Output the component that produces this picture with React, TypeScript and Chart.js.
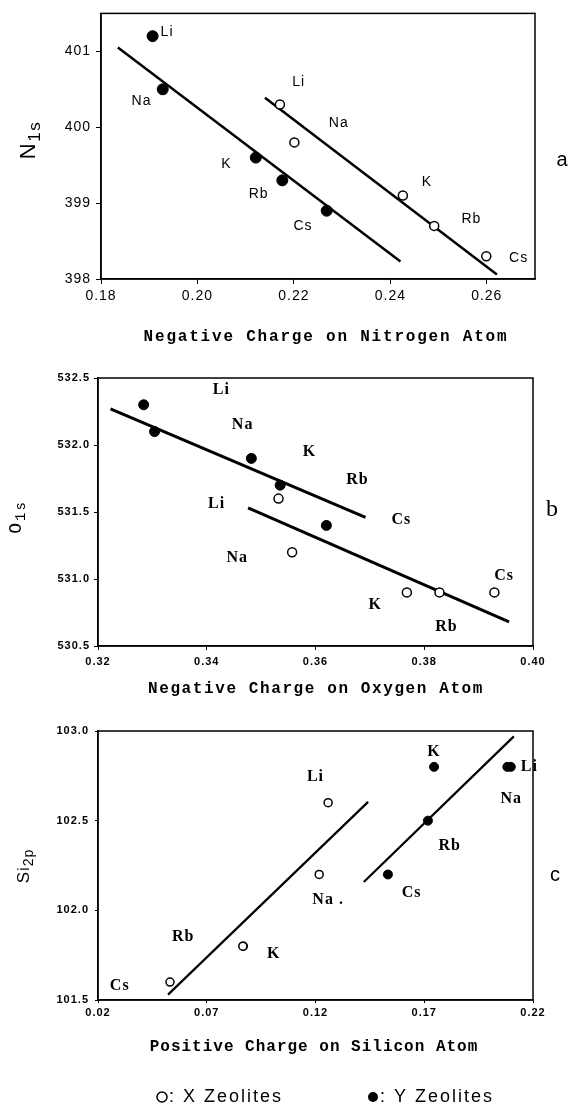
import React, { useEffect, useRef } from "react";
import { Chart, registerables } from "chart.js";

Chart.register(...registerables);

// ---------------- Panel a : N1s vs negative charge on nitrogen ----------------
const A_LABELS_X = ["Li", "Na", "K", "Rb", "Cs"];
const A_LABELS_Y = ["Li", "Na", "K", "Rb", "Cs"];
const A_X_CHARGE = [0.2171, 0.2201, 0.2426, 0.2491, 0.2599];
const A_X_N1S = [400.3, 399.8, 399.1, 398.7, 398.3];
const A_Y_CHARGE = [0.1907, 0.1928, 0.2121, 0.2176, 0.2268];
const A_Y_N1S = [401.2, 400.5, 399.6, 399.3, 398.9];
const A_X_FIT_CHARGE = [0.214, 0.2621];
const A_X_FIT_N1S = [400.39, 398.06];
const A_Y_FIT_CHARGE = [0.1835, 0.2421];
const A_Y_FIT_N1S = [401.05, 398.23];
const A_X_TICKS = [0.18, 0.2, 0.22, 0.24, 0.26];
const A_Y_TICKS = [398, 399, 400, 401];
// label anchors (data coordinates)
const A_X_LABEL_CHARGE = [0.221, 0.2293, 0.2476, 0.2568, 0.2666];
const A_X_LABEL_N1S = [400.59, 400.05, 399.28, 398.79, 398.28];
const A_Y_LABEL_CHARGE = [0.1937, 0.1884, 0.206, 0.2127, 0.2219];
const A_Y_LABEL_N1S = [401.25, 400.35, 399.51, 399.12, 398.69];

// ---------------- Panel b : O1s vs negative charge on oxygen ----------------
const B_LABELS_X = ["Li", "Na", "K", "Rb", "Cs"];
const B_LABELS_Y = ["Li", "Na", "K", "Rb", "Cs"];
const B_X_CHARGE = [0.3532, 0.3557, 0.3768, 0.3828, 0.3929];
const B_X_O1S = [531.6, 531.2, 530.9, 530.9, 530.9];
const B_Y_CHARGE = [0.3284, 0.3304, 0.3482, 0.3535, 0.362];
const B_Y_O1S = [532.3, 532.1, 531.9, 531.7, 531.4];
const B_X_FIT_CHARGE = [0.3476, 0.3956];
const B_X_FIT_O1S = [531.53, 530.68];
const B_Y_FIT_CHARGE = [0.3223, 0.3692];
const B_Y_FIT_O1S = [532.27, 531.46];
const B_X_TICKS = [0.32, 0.34, 0.36, 0.38, 0.4];
const B_Y_TICKS = [530.5, 531.0, 531.5, 532.0, 532.5];
const B_X_LABEL_CHARGE = [0.3418, 0.3456, 0.371, 0.3841, 0.3947];
const B_X_LABEL_O1S = [531.56, 531.16, 530.81, 530.64, 531.02];
const B_Y_LABEL_CHARGE = [0.3427, 0.3466, 0.3589, 0.3677, 0.3758];
const B_Y_LABEL_O1S = [532.41, 532.15, 531.95, 531.74, 531.44];

// ---------------- Panel c : Si2p vs positive charge on silicon ----------------
const C_LABELS_X = ["Li", "Na .", "K", "Rb", "Cs"];
const C_LABELS_Y = ["Li", "Na", "K", "Rb", "Cs"];
const C_X_CHARGE = [0.1258, 0.1217, 0.0868, 0.0866, 0.0531];
const C_X_SI2P = [102.6, 102.2, 101.8, 101.8, 101.6];
const C_Y_CHARGE = [0.2098, 0.2082, 0.1745, 0.1717, 0.1533];
const C_Y_SI2P = [102.8, 102.8, 102.8, 102.5, 102.2];
const C_X_FIT_CHARGE = [0.0522, 0.1442];
const C_X_FIT_SI2P = [101.53, 102.605];
const C_Y_FIT_CHARGE = [0.1422, 0.2112];
const C_Y_FIT_SI2P = [102.158, 102.97];
const C_X_TICKS = [0.02, 0.07, 0.12, 0.17, 0.22];
const C_Y_TICKS = [101.5, 102.0, 102.5, 103.0];
const C_X_LABEL_CHARGE = [0.12, 0.1258, 0.1008, 0.0592, 0.03];
const C_X_LABEL_SI2P = [102.745, 102.056, 101.758, 101.85, 101.58];
const C_Y_LABEL_CHARGE = [0.2183, 0.21, 0.1745, 0.1817, 0.1642];
const C_Y_LABEL_SI2P = [102.8, 102.62, 102.885, 102.36, 102.1];

const LEGEND_X_TEXT = ": X Zeolites";
const LEGEND_Y_TEXT = ": Y Zeolites";

const SANS = '"Liberation Sans", Arial, sans-serif';
const MONO = '"Liberation Mono", "Courier New", monospace';
const SERIF = '"Liberation Serif", "Times New Roman", serif';

const pts = (xs: number[], ys: number[]) => xs.map((x, i) => ({ x, y: ys[i] }));

type LabelGroup = { text: string[]; x: number[]; y: number[] };

type Spec = {
  xMin: number; xMax: number; yMin: number; yMax: number;
  xTicks: number[]; yTicks: number[]; xDec: number; yDec: number;
  openX: number[]; openY: number[]; filledX: number[]; filledY: number[];
  fitOpenX: number[]; fitOpenY: number[]; fitFilledX: number[]; fitFilledY: number[];
  openR: number; filledR: number; lineW: number;
  tickFont: any; tickSpacing: string; xTickLen: number; xTickPad: number; yTickLen: number; yTickPad: number;
  yAxisWidth: number; xAxisHeight: number; padTop: number; padRight: number;
  labels: LabelGroup[]; labelFont: string; labelSpacing: string;
  xTitle: { text: string; font: string; spacing: string; cx: number; cy: number };
  yTitle: { main: string; sub: string; mainFont: string; subFont: string; shift: number; base: number; spacing: string; cx: number; cy: number };
  letter: { text: string; font: string; cx: number; cy: number };
  legend?: { y: number; x1: number; x2: number; font: string; spacing: string; r: number };
};

function decoPlugin(s: Spec) {
  return {
    id: "deco",
    beforeDraw(chart: any) {
      chart.ctx.letterSpacing = s.tickSpacing;
    },
    afterDatasetsDraw(chart: any) {
      const ctx = chart.ctx;
      const xs = chart.scales.x;
      const ys = chart.scales.y;
      ctx.save();
      ctx.fillStyle = "#000";
      ctx.font = s.labelFont;
      ctx.letterSpacing = s.labelSpacing;
      ctx.textAlign = "center";
      ctx.textBaseline = "middle";
      s.labels.forEach((g) =>
        g.text.forEach((t, i) => ctx.fillText(t, xs.getPixelForValue(g.x[i]), ys.getPixelForValue(g.y[i])))
      );
      ctx.restore();
    },
    afterDraw(chart: any) {
      const ctx = chart.ctx;
      const ca = chart.chartArea;
      ctx.save();
      ctx.strokeStyle = "#000";
      ctx.lineWidth = 1.5;
      ctx.strokeRect(ca.left, ca.top, ca.right - ca.left, ca.bottom - ca.top);

      ctx.fillStyle = "#000";
      // x title
      ctx.font = s.xTitle.font;
      ctx.letterSpacing = s.xTitle.spacing;
      ctx.textAlign = "center";
      ctx.textBaseline = "middle";
      ctx.fillText(s.xTitle.text, s.xTitle.cx, s.xTitle.cy);

      // panel letter
      ctx.font = s.letter.font;
      ctx.letterSpacing = "0px";
      ctx.fillText(s.letter.text, s.letter.cx, s.letter.cy);

      // y title with subscript
      const yt = s.yTitle;
      ctx.save();
      ctx.translate(yt.cx, yt.cy);
      ctx.rotate(-Math.PI / 2);
      ctx.letterSpacing = yt.spacing;
      ctx.textAlign = "left";
      ctx.textBaseline = "alphabetic";
      ctx.font = yt.mainFont;
      const w1 = ctx.measureText(yt.main).width;
      ctx.font = yt.subFont;
      const w2 = ctx.measureText(yt.sub).width;
      const start = -(w1 + w2) / 2;
      ctx.font = yt.mainFont;
      ctx.fillText(yt.main, start, yt.base);
      ctx.font = yt.subFont;
      ctx.fillText(yt.sub, start + w1, yt.base + yt.shift);
      ctx.restore();

      // legend
      if (s.legend) {
        const L = s.legend;
        ctx.font = L.font;
        ctx.letterSpacing = L.spacing;
        ctx.textAlign = "left";
        ctx.textBaseline = "middle";
        ctx.lineWidth = 1.5;
        ctx.beginPath();
        ctx.arc(L.x1 + L.r, L.y, L.r, 0, Math.PI * 2);
        ctx.stroke();
        ctx.fillText(LEGEND_X_TEXT, L.x1 + 2 * L.r + 2, L.y);
        ctx.beginPath();
        ctx.arc(L.x2 + L.r, L.y, L.r, 0, Math.PI * 2);
        ctx.fill();
        ctx.fillText(LEGEND_Y_TEXT, L.x2 + 2 * L.r + 2, L.y);
      }
      ctx.restore();
      ctx.letterSpacing = "0px";
    },
  };
}

function buildConfig(s: Spec): any {
  const axisCommon = (isX: boolean) => ({
    type: "linear",
    min: isX ? s.xMin : s.yMin,
    max: isX ? s.xMax : s.yMax,
    afterBuildTicks: (axis: any) => {
      axis.ticks = (isX ? s.xTicks : s.yTicks).map((v) => ({ value: v }));
    },
    afterFit: (axis: any) => {
      if (isX) axis.height = s.xAxisHeight;
      else axis.width = s.yAxisWidth;
    },
    ticks: {
      callback: (v: any) => Number(v).toFixed(isX ? s.xDec : s.yDec),
      font: s.tickFont,
      color: "#000",
      padding: isX ? s.xTickPad : s.yTickPad,
      maxRotation: 0,
      autoSkip: false,
    },
    grid: {
      drawOnChartArea: false,
      drawTicks: true,
      tickLength: isX ? s.xTickLen : s.yTickLen,
      color: "#000",
      lineWidth: 1,
    },
    border: { display: true, color: "#000", width: 1.5 },
    title: { display: false },
  });
  return {
    type: "scatter",
    data: {
      datasets: [
        {
          label: "X Zeolites",
          data: pts(s.openX, s.openY),
          pointRadius: s.openR,
          backgroundColor: "#fff",
          pointBackgroundColor: "#fff",
          borderColor: "#000",
          pointBorderColor: "#000",
          pointBorderWidth: 1.5,
          showLine: false,
          clip: false,
        },
        {
          label: "Y Zeolites",
          data: pts(s.filledX, s.filledY),
          pointRadius: s.filledR,
          backgroundColor: "#000",
          pointBackgroundColor: "#000",
          borderColor: "#000",
          pointBorderColor: "#000",
          pointBorderWidth: 1,
          showLine: false,
          clip: false,
        },
        {
          label: "X fit",
          data: pts(s.fitOpenX, s.fitOpenY),
          showLine: true,
          borderColor: "#000",
          borderWidth: s.lineW,
          pointRadius: 0,
          fill: false,
          clip: false,
        },
        {
          label: "Y fit",
          data: pts(s.fitFilledX, s.fitFilledY),
          showLine: true,
          borderColor: "#000",
          borderWidth: s.lineW,
          pointRadius: 0,
          fill: false,
          clip: false,
        },
      ],
    },
    options: {
      animation: false,
      responsive: false,
      maintainAspectRatio: false,
      events: [],
      layout: { padding: { top: s.padTop, right: s.padRight, left: 0, bottom: 0 } },
      plugins: { legend: { display: false }, tooltip: { enabled: false }, title: { display: false } },
      scales: { x: axisCommon(true), y: axisCommon(false) },
    },
    plugins: [decoPlugin(s)],
  };
}

const SPEC_A: Spec = {
  xMin: 0.18, xMax: 0.27, yMin: 398, yMax: 401.5,
  xTicks: A_X_TICKS, yTicks: A_Y_TICKS, xDec: 2, yDec: 0,
  openX: A_X_CHARGE, openY: A_X_N1S, filledX: A_Y_CHARGE, filledY: A_Y_N1S,
  fitOpenX: A_X_FIT_CHARGE, fitOpenY: A_X_FIT_N1S, fitFilledX: A_Y_FIT_CHARGE, fitFilledY: A_Y_FIT_N1S,
  openR: 4.5, filledR: 5.5, lineW: 2.5,
  tickFont: { family: SANS, size: 14 }, tickSpacing: "1px",
  xTickLen: 5, xTickPad: 4, yTickLen: 5, yTickPad: 5,
  yAxisWidth: 101, xAxisHeight: 76, padTop: 13, padRight: 33,
  labels: [
    { text: A_LABELS_X, x: A_X_LABEL_CHARGE, y: A_X_LABEL_N1S },
    { text: A_LABELS_Y, x: A_Y_LABEL_CHARGE, y: A_Y_LABEL_N1S },
  ],
  labelFont: `14px ${SANS}`, labelSpacing: "1px",
  xTitle: { text: "Negative Charge on Nitrogen Atom", font: `bold 16px ${MONO}`, spacing: "1.8px", cx: 326, cy: 337 },
  yTitle: { main: "N", sub: "1s", mainFont: `22px ${SANS}`, subFont: `17px ${SANS}`, shift: 5, base: 8, spacing: "1.5px", cx: 27, cy: 140 },
  letter: { text: "a", font: `20px ${SANS}`, cx: 562, cy: 160 },
};

const SPEC_B: Spec = {
  xMin: 0.32, xMax: 0.4, yMin: 530.5, yMax: 532.5,
  xTicks: B_X_TICKS, yTicks: B_Y_TICKS, xDec: 2, yDec: 1,
  openX: B_X_CHARGE, openY: B_X_O1S, filledX: B_Y_CHARGE, filledY: B_Y_O1S,
  fitOpenX: B_X_FIT_CHARGE, fitOpenY: B_X_FIT_O1S, fitFilledX: B_Y_FIT_CHARGE, fitFilledY: B_Y_FIT_O1S,
  openR: 4.5, filledR: 5, lineW: 3,
  tickFont: { family: SANS, size: 11, weight: "bold" }, tickSpacing: "1px",
  xTickLen: 4, xTickPad: 5, yTickLen: 4, yTickPad: 4,
  yAxisWidth: 98, xAxisHeight: 54, padTop: 23, padRight: 35,
  labels: [
    { text: B_LABELS_X, x: B_X_LABEL_CHARGE, y: B_X_LABEL_O1S },
    { text: B_LABELS_Y, x: B_Y_LABEL_CHARGE, y: B_Y_LABEL_O1S },
  ],
  labelFont: `bold 16px ${SERIF}`, labelSpacing: "1px",
  xTitle: { text: "Negative Charge on Oxygen Atom", font: `bold 16px ${MONO}`, spacing: "1.6px", cx: 316, cy: 334 },
  yTitle: { main: "O", sub: "1s", mainFont: `18px ${MONO}`, subFont: `14px ${MONO}`, shift: 4, base: 6, spacing: "2px", cx: 15, cy: 162 },
  letter: { text: "b", font: `24px ${SERIF}`, cx: 552, cy: 155 },
};

const SPEC_C: Spec = {
  xMin: 0.02, xMax: 0.22, yMin: 101.5, yMax: 103.0,
  xTicks: C_X_TICKS, yTicks: C_Y_TICKS, xDec: 2, yDec: 1,
  openX: C_X_CHARGE, openY: C_X_SI2P, filledX: C_Y_CHARGE, filledY: C_Y_SI2P,
  fitOpenX: C_X_FIT_CHARGE, fitOpenY: C_X_FIT_SI2P, fitFilledX: C_Y_FIT_CHARGE, fitFilledY: C_Y_FIT_SI2P,
  openR: 4, filledR: 4.5, lineW: 2.2,
  tickFont: { family: SANS, size: 11, weight: "bold" }, tickSpacing: "1px",
  xTickLen: 3, xTickPad: 3, yTickLen: 3, yTickPad: 6,
  yAxisWidth: 98, xAxisHeight: 106, padTop: 31, padRight: 35,
  labels: [
    { text: C_LABELS_X, x: C_X_LABEL_CHARGE, y: C_X_LABEL_SI2P },
    { text: C_LABELS_Y, x: C_Y_LABEL_CHARGE, y: C_Y_LABEL_SI2P },
  ],
  labelFont: `bold 16px ${SERIF}`, labelSpacing: "1px",
  xTitle: { text: "Positive Charge on Silicon Atom", font: `bold 16px ${MONO}`, spacing: "1px", cx: 314, cy: 347 },
  yTitle: { main: "Si", sub: "2p", mainFont: `17px ${SANS}`, subFont: `14px ${SANS}`, shift: 4, base: 6, spacing: "1px", cx: 23, cy: 166 },
  letter: { text: "c", font: `20px ${SANS}`, cx: 555, cy: 175 },
  legend: { y: 397, x1: 157, x2: 368, font: `18px ${SANS}`, spacing: "2px", r: 5 },
};

function Panel({ top, height, spec }: { top: number; height: number; spec: Spec }) {
  const ref = useRef<HTMLCanvasElement | null>(null);
  useEffect(() => {
    if (!ref.current) return;
    const chart = new Chart(ref.current, buildConfig(spec));
    return () => chart.destroy();
  }, [spec]);
  return (
    <canvas
      ref={ref}
      width={568}
      height={height}
      style={{ position: "absolute", left: 0, top, width: 568, height, display: "block" }}
    />
  );
}

export default function App() {
  return (
    <div style={{ position: "fixed", left: 0, top: 0, width: 568, height: 1106, background: "#fff", overflow: "hidden" }}>
      <Panel top={0} height={355} spec={SPEC_A} />
      <Panel top={355} height={345} spec={SPEC_B} />
      <Panel top={700} height={406} spec={SPEC_C} />
    </div>
  );
}
